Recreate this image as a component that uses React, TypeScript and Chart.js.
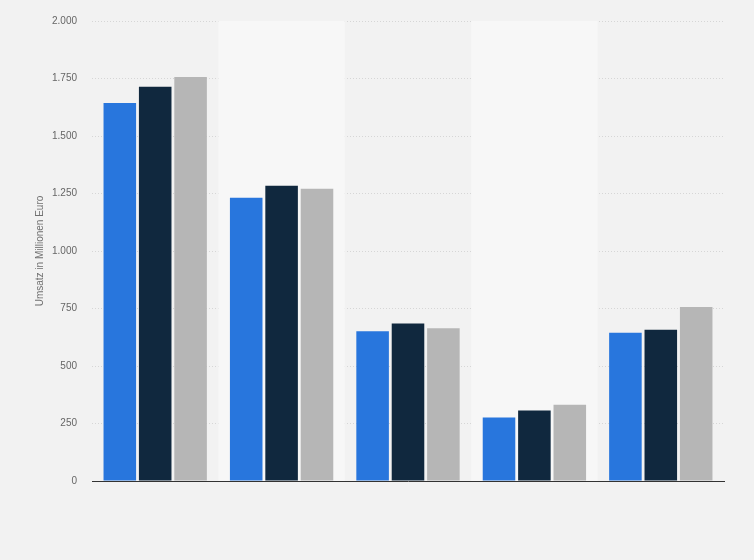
import React, { useEffect, useRef } from "react";
import { Chart, registerables } from "chart.js";

Chart.register(...registerables);

const categories = ["Kategorie 1", "Kategorie 2", "Kategorie 3", "Kategorie 4", "Kategorie 5"];
const seriesA = [1644, 1232, 651, 276, 645];
const seriesB = [1714, 1284, 685, 307, 658];
const seriesC = [1757, 1271, 664, 331, 756];
const seriesNames = ["Serie 1", "Serie 2", "Serie 3"];
const yTickValues = [0, 250, 500, 750, 1000, 1250, 1500, 1750, 2000];

const bandPlugin = {
  id: "bands",
  beforeDatasetsDraw(chart: any) {
    const { ctx, chartArea, scales } = chart;
    const x = scales.x;
    ctx.save();
    ctx.fillStyle = "#f7f7f7";
    for (let i = 1; i < categories.length; i += 2) {
      const c = x.getPixelForValue(i);
      const half = (x.getPixelForValue(1) - x.getPixelForValue(0)) / 2;
      ctx.fillRect(c - half, chartArea.top, half * 2, chartArea.bottom - chartArea.top);
    }
    ctx.restore();
  },
};

export default function App() {
  const ref = useRef<HTMLCanvasElement | null>(null);
  useEffect(() => {
    if (!ref.current) return;
    const chart = new Chart(ref.current, {
      type: "bar",
      data: {
        labels: categories,
        datasets: [
          { label: seriesNames[0], data: seriesA, backgroundColor: "#2876dd" },
          { label: seriesNames[1], data: seriesB, backgroundColor: "#10283e" },
          { label: seriesNames[2], data: seriesC, backgroundColor: "#b6b6b6" },
        ],
      },
      options: {
        animation: false,
        responsive: false,
        maintainAspectRatio: false,
        layout: { padding: { left: 30, top: 20, right: 30, bottom: 79 } },
        datasets: { bar: { categoryPercentage: 0.84, barPercentage: 0.92 } },
        plugins: { legend: { display: false }, tooltip: { enabled: false } },
        scales: {
          x: {
            ticks: { display: false },
            grid: { display: false, drawTicks: false },
            border: { display: true, color: "#333333", width: 1 },
          },
          y: {
            min: 0,
            max: 2000,
            afterBuildTicks(scale: any) {
              scale.ticks = yTickValues.map((v) => ({ value: v }));
            },
            afterFit(scale: any) {
              scale.width = 62;
            },
            ticks: {
              padding: 15,
              color: "#666666",
              font: { family: "'Liberation Sans', Arial, sans-serif", size: 10 },
              callback: (v: any) => Number(v).toLocaleString("de-DE"),
            },
            grid: {
              color: "#d6d6d6",
              drawTicks: false,
              lineWidth: 1,
            },
            border: { display: false, dash: [1, 2] },
            title: {
              display: true,
              text: "Umsatz in Millionen Euro",
              color: "#707070",
              font: { family: "'Liberation Sans', Arial, sans-serif", size: 10 },
              padding: 4,
            },
          },
        },
      },
      plugins: [bandPlugin],
    });
    return () => chart.destroy();
  }, []);
  return (
    <div style={{ position: "absolute", left: 0, top: 0, width: 754, height: 560, background: "#f2f2f2" }}>
      <canvas ref={ref} width={754} height={560} style={{ display: "block" }} />
    </div>
  );
}
